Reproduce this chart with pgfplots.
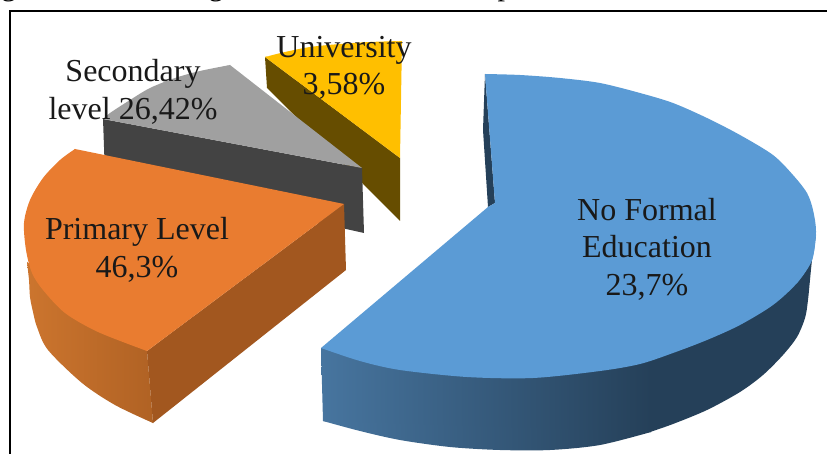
\documentclass[border=0pt]{standalone}
\usepackage{fontspec}
\setmainfont{Liberation Serif}
\usepackage{pgfplots}
\pgfplotsset{compat=1.18}
\definecolor{blueTop}{HTML}{5B9BD5}
\definecolor{blueDark}{HTML}{254059}
\definecolor{blueLeft}{HTML}{47759F}
\definecolor{orangeTop}{HTML}{E97C30}
\definecolor{orangeFace}{HTML}{A2571F}
\definecolor{orangeLeft}{HTML}{CC752E}
\definecolor{orangeRight}{HTML}{B06224}
\definecolor{greyTop}{HTML}{A0A0A0}
\definecolor{greyFace}{HTML}{434343}
\definecolor{yellowTop}{HTML}{FFBF00}
\definecolor{yellowFace}{HTML}{664D00}
\begin{document}
\begin{tikzpicture}
\begin{axis}[
  width=827pt, height=454pt, scale only axis,
  xmin=0, xmax=827, ymin=0, ymax=454, y dir=reverse,
  hide axis, clip=true,
  every axis plot/.append style={no markers, forget plot, draw=none},
]
% Each slice top is a straight-edged wedge plus its smoothed rim
% University slice
\addplot[sharp plot, fill=yellowFace] coordinates {(265,57) (400,158) (400,221) (267,88)} -- cycle;
\addplot[smooth, fill=yellowTop] coordinates {(265,57) (285,52) (310,47) (340,44) (370,42) (402,41)};
\addplot[sharp plot, fill=yellowTop] coordinates {(265,57) (310,49) (370,44) (402,41) (400,158)} -- cycle;
% Secondary level slice
\addplot[sharp plot, fill=greyFace] coordinates {(103,119) (362,168) (364,233) (105,175)} -- cycle;
\addplot[smooth, fill=greyTop] coordinates {(103,119) (110,113) (130,100) (150,88) (175,78) (200,71) (230,65)};
\addplot[sharp plot, fill=greyTop] coordinates {(103,119) (150,91) (200,74) (230,65) (362,168)} -- cycle;
% Primary level slice
\addplot[smooth, left color=orangeLeft, right color=orangeRight] coordinates {(27,262) (29,280) (30,297) (33,312) (37,327) (48,350) (82,383) (115,405) (153,423)};
\addplot[sharp plot, left color=orangeLeft, right color=orangeRight] coordinates {(27,262) (147,351) (153,423) (80,375) (40,325)} -- cycle;
\addplot[sharp plot, fill=orangeFace] coordinates {(147,351) (344,204) (346,270) (153,423)} -- cycle;
\addplot[smooth, fill=orangeTop] coordinates {(75,149) (60,160) (43,178) (30,200) (24,223) (26,250) (32,273) (43,290) (65,313) (98,332) (147,351)};
\addplot[sharp plot, fill=orangeTop] coordinates {(75,149) (32,205) (30,255) (65,305) (147,351) (344,204)} -- cycle;
% No formal education slice: side wall, then top
\addplot[sharp plot, left color=blueLeft, right color=blueDark] coordinates {(321,348) (651,361) (651,432) (500,447) (323,421)} -- cycle;
\addplot[smooth, left color=blueLeft, right color=blueDark] coordinates {(323,421) (360,431) (400,440) (450,447) (500,450) (550,450) (600,445) (651,432)};
\addplot[smooth, fill=blueDark] coordinates {(650,432) (673,424) (707,410) (740,392) (763,375) (783,355) (797,337) (805,318) (808,300) (812,260) (816,235)};
\addplot[sharp plot, fill=blueDark] coordinates {(816,235) (650,340) (650,432) (740,382) (795,325)} -- cycle;
\addplot[sharp plot, fill=blueDark] coordinates {(485,74) (495,203) (488,207) (483,130)} -- cycle;
\addplot[smooth, fill=blueTop] coordinates {(485,74) (520,75) (560,78) (600,83) (640,93) (673,103) (707,118) (740,135) (773,155) (793,175) (807,193) (813,210) (816,232) (812,260) (797,283)};
\addplot[smooth, fill=blueTop] coordinates {(816,232) (812,260) (797,283) (773,305) (740,325) (707,340) (673,353) (640,364) (600,371) (533,378) (467,377) (400,370) (360,361) (321,348)};
\addplot[sharp plot, fill=blueTop] coordinates {(485,74) (640,100) (773,165) (805,240) (797,283) (640,355) (467,370) (321,348) (488,207) (495,203)} -- cycle;
% Frame around the chart
\addplot[sharp plot, draw=black, line width=1.6pt] coordinates {(10,454) (10,11) (827,11)};
% Slice labels
\begin{scope}[every node/.style={align=center, text=black!90, font=\fontsize{32}{37.5}\selectfont, inner sep=0pt}]
\node at (axis cs:647,249) {No Formal\\Education\\23,7\%};
\node at (axis cs:137,250) {Primary Level\\46,3\%};
\node at (axis cs:133,92) {Secondary\\level 26,42\%};
\node at (axis cs:344,68) {University\\3,58\%};
\end{scope}
% Descenders of the line of text cut off above the frame
\begin{scope}
\clip (axis cs:0,0) rectangle (axis cs:827,454);
\node[font=\fontsize{30}{30}\selectfont, anchor=base, inner sep=0pt] at (axis cs:9,-4) {g};
\node[font=\fontsize{30}{30}\selectfont, anchor=base, inner sep=0pt] at (axis cs:216,-4) {g};
\node[font=\fontsize{30}{30}\selectfont, anchor=base, inner sep=0pt] at (axis cs:505,-4) {p};
\end{scope}
\end{axis}
\end{tikzpicture}
\end{document}
